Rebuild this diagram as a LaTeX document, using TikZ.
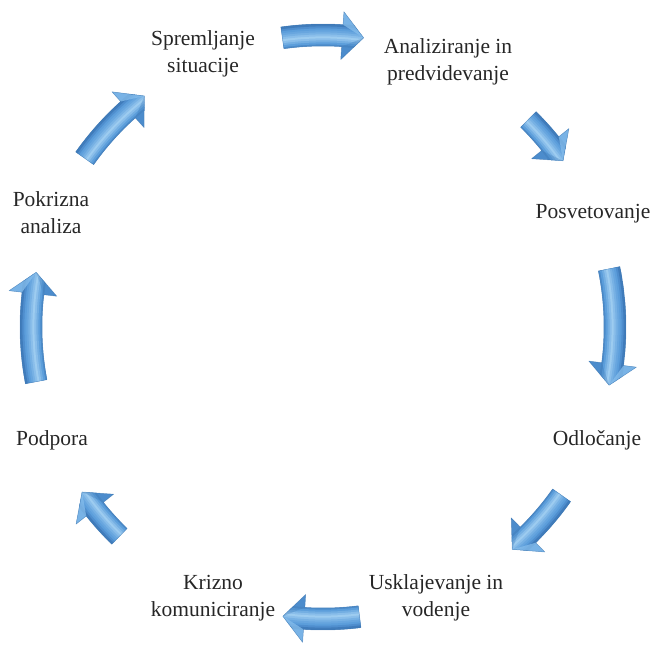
\documentclass[tikz,border=0pt]{standalone}
\usepackage{fontspec}
\setmainfont{Liberation Serif}
\definecolor{ahead}{HTML}{5496D6}
\definecolor{adark}{HTML}{3C78B6}
\definecolor{amid}{HTML}{5C9EDB}
\definecolor{ahigh}{HTML}{A9D4F4}
\definecolor{amid2}{HTML}{4F8ECE}
\definecolor{aedge}{HTML}{3A70A8}
\definecolor{aflap}{HTML}{86BEEC}
\tikzset{
  lbl/.style={font=\fontsize{21.5}{27}\selectfont, align=center, inner sep=0pt, text=black!85},
  arrowedge/.style={draw=aedge, draw opacity=0.5, line width=0.5pt, line join=round}
}
\newcommand\cycarrow[2]{%
  \pgfmathsetmacro\hbase{#2-4.2}%
  \begin{scope}
    \clip (#1:281) arc[start angle=#1,end angle=\hbase,radius=281]
      -- (\hbase:268) -- (#2:292) -- (\hbase:316) -- (\hbase:303)
      arc[start angle=\hbase,end angle=#1,radius=303] -- cycle;
    \fill[ahead] (0,0) circle[radius=330];
    \foreach \rr/\cc in {282/adark!50!amid, 284/amid, 286/ahigh!30!amid,
        288/ahigh!60!amid, 290/ahigh!85!amid, 292/ahigh!60!amid, 294/ahigh!35!amid,
        296/ahigh!15!amid, 298/amid, 300/amid2, 302/adark!80!amid2}
      {\draw[draw=\cc, line width=2.8pt] (0,0) circle[radius=\rr];}
    \fill[aflap, opacity=0.75] (\hbase:303) -- (\hbase:316) -- (#2:292) -- cycle;
    \fill[adark, opacity=0.3] (\hbase:281) -- (\hbase:268) -- (#2:292) -- cycle;
  \end{scope}
  \path[arrowedge] (#1:281) arc[start angle=#1,end angle=\hbase,radius=281]
    -- (\hbase:268) -- (#2:292) -- (\hbase:316) -- (\hbase:303)
    arc[start angle=\hbase,end angle=#1,radius=303] -- cycle;
}
\begin{document}
\begin{tikzpicture}[x=1pt,y=-1pt]
\useasboundingbox (0,0) rectangle (660,646);
\coordinate (c) at (323,327);
\node[lbl] (s1) at (203,54) {Spremljanje\\situacije};
\node[lbl] (s2) at (448,62) {Analiziranje in\\predvidevanje};
\node[lbl] (s3) at (593,214) {Posvetovanje};
\node[lbl] (s4) at (597,440) {Odločanje};
\node[lbl] (s5) at (436,598) {Usklajevanje in\\vodenje};
\node[lbl] (s6) at (213,598) {Krizno\\komuniciranje};
\node[lbl] (s7) at (52,440) {Podpora};
\node[lbl] (s8) at (51,213) {Pokrizna\\analiza};
\begin{scope}[shift={(c)}]
\cycarrow{262}{278}
\cycarrow{314.7}{325.3}
\cycarrow{348.5}{371.5}
\cycarrow{35.2}{49.6}
\cycarrow{82.8}{97.9}
\cycarrow{134.2}{145.6}
\cycarrow{169.2}{190.8}
\cycarrow{215.3}{232.3}
\end{scope}
\end{tikzpicture}
\end{document}
